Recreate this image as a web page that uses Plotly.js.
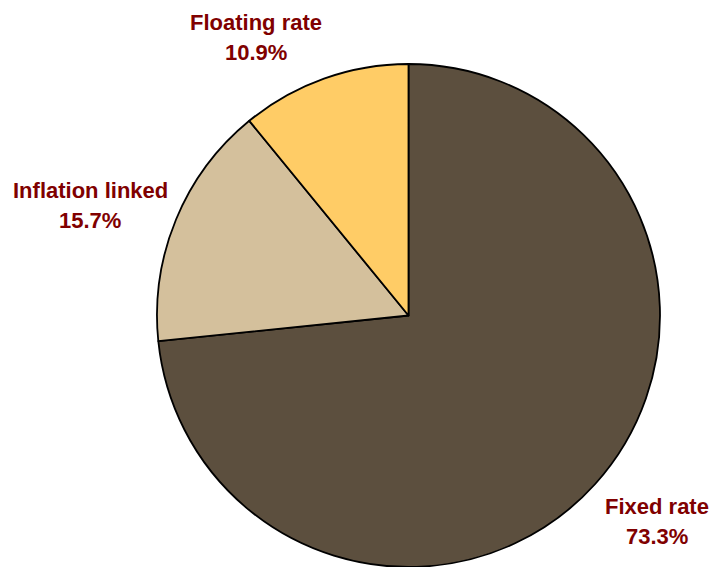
<!DOCTYPE html>
<html>
<head>
<meta charset="utf-8">
<script src="https://cdn.plot.ly/plotly-3.0.1.min.js"></script>
<style>html,body{margin:0;padding:0;background:#fff;}#chart{width:713px;height:567px;}</style>
</head>
<body>
<div id="chart"></div>
<script>
const categories = ["Fixed rate", "Inflation linked", "Floating rate"];
const values = [73.3, 15.7, 10.9];
const valueLabels = ["73.3%", "15.7%", "10.9%"];
const colors = ["#5C4F3E", "#D4C09C", "#FFCC66"];

const W = 713, H = 567;
// label positions in pixels (name line, percent line)
const labelPos = [
  {x: 657, y1: 506, y2: 536},
  {x: 90, y1: 190, y2: 220},
  {x: 256, y1: 22, y2: 53}
];
const annotations = [];
categories.forEach((c, i) => {
  const p = labelPos[i];
  annotations.push({text: "<b>" + c + "</b>", x: p.x / W, y: 1 - p.y1 / H, xref: "paper", yref: "paper",
    xanchor: "center", yanchor: "middle", showarrow: false,
    font: {family: "Liberation Sans, Arial, sans-serif", size: 22, color: "#800000"}});
  annotations.push({text: "<b>" + valueLabels[i] + "</b>", x: p.x / W, y: 1 - p.y2 / H, xref: "paper", yref: "paper",
    xanchor: "center", yanchor: "middle", showarrow: false,
    font: {family: "Liberation Sans, Arial, sans-serif", size: 22, color: "#800000"}});
});

const trace = {
  type: "pie",
  labels: categories,
  values: values,
  sort: false,
  direction: "clockwise",
  rotation: 0,
  textinfo: "none",
  hoverinfo: "label+percent",
  marker: {colors: colors, line: {color: "#000000", width: 1.8}},
  domain: {x: [157 / W, 660 / W], y: [0, 503 / H]},
  showlegend: false
};

const layout = {
  width: W, height: H,
  margin: {l: 0, r: 0, t: 0, b: 0},
  paper_bgcolor: "#ffffff",
  plot_bgcolor: "#ffffff",
  showlegend: false,
  annotations: annotations
};
Plotly.newPlot("chart", [trace], layout, {displayModeBar: false, staticPlot: true});
</script>
</body>
</html>
